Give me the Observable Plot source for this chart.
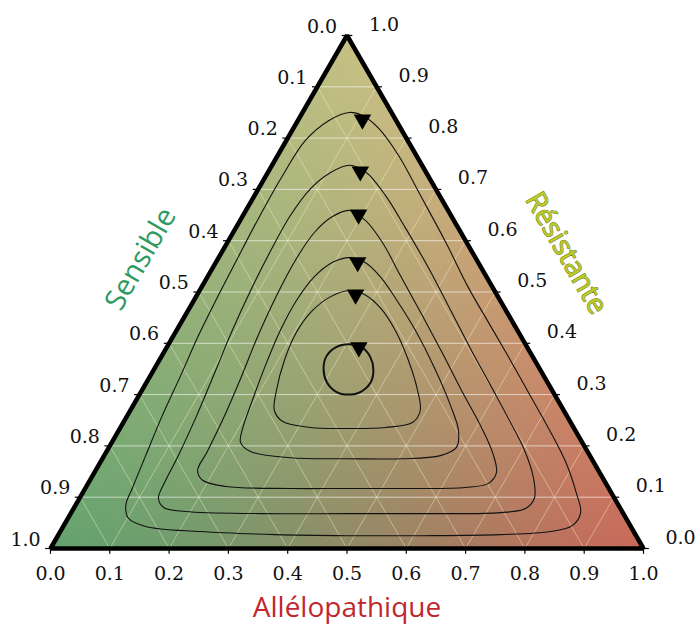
<!DOCTYPE html>
<html>
<head>
<meta charset="utf-8">
<script src="https://cdn.jsdelivr.net/npm/d3@7"></script>
<script src="https://cdn.jsdelivr.net/npm/@observablehq/plot@0.6"></script>
<style>
  body { margin: 0; background: #fff; }
  svg { display: block; }
</style>
</head>
<body>
<div id="chart"></div>
<script>
// ---- data (ternary coordinates: [Allélopathique, Résistante]; Sensible = 1 - a - r) ----
const tickValues = [0, 0.1, 0.2, 0.3, 0.4, 0.5, 0.6, 0.7, 0.8, 0.9, 1.0];
const tickLabels = ["0.0", "0.1", "0.2", "0.3", "0.4", "0.5", "0.6", "0.7", "0.8", "0.9", "1.0"];
const gridValues = [0.1, 0.2, 0.3, 0.4, 0.5, 0.6, 0.7, 0.8, 0.9];
const axisTitles = ["Sensible", "Résistante", "Allélopathique"];

const orbit1 = [[0.079,0.850],[0.052,0.834],[0.032,0.795],[0.028,0.727],[0.029,0.643],[0.033,0.558],[0.037,0.483],[0.042,0.415],[0.051,0.337],[0.059,0.259],[0.070,0.181],[0.079,0.119],[0.085,0.084],[0.102,0.059],[0.139,0.043],[0.236,0.033],[0.366,0.027],[0.488,0.025],[0.611,0.025],[0.745,0.027],[0.827,0.033],[0.858,0.045],[0.859,0.070],[0.832,0.109],[0.785,0.168],[0.723,0.234],[0.654,0.304],[0.592,0.367],[0.526,0.433],[0.450,0.509],[0.368,0.597],[0.280,0.688],[0.204,0.766],[0.144,0.819],[0.104,0.844]];
const orbit2 = [[0.131,0.747],[0.106,0.733],[0.088,0.702],[0.080,0.649],[0.081,0.581],[0.086,0.503],[0.094,0.425],[0.105,0.347],[0.117,0.259],[0.125,0.181],[0.128,0.129],[0.133,0.098],[0.151,0.080],[0.192,0.072],[0.320,0.068],[0.467,0.068],[0.607,0.068],[0.724,0.070],[0.762,0.078],[0.767,0.098],[0.746,0.137],[0.704,0.191],[0.646,0.253],[0.583,0.318],[0.513,0.390],[0.443,0.464],[0.365,0.546],[0.287,0.624],[0.221,0.688],[0.166,0.733]];
const orbit3 = [[0.175,0.659],[0.152,0.647],[0.137,0.616],[0.132,0.561],[0.135,0.489],[0.143,0.411],[0.155,0.331],[0.165,0.250],[0.170,0.187],[0.172,0.152],[0.190,0.133],[0.235,0.121],[0.346,0.117],[0.442,0.117],[0.549,0.117],[0.640,0.119],[0.675,0.127],[0.678,0.148],[0.652,0.187],[0.605,0.240],[0.543,0.304],[0.475,0.376],[0.400,0.454],[0.324,0.532],[0.263,0.595],[0.212,0.639]];
const orbit4 = [[0.221,0.567],[0.197,0.558],[0.180,0.530],[0.173,0.483],[0.175,0.425],[0.184,0.357],[0.196,0.289],[0.207,0.234],[0.217,0.207],[0.243,0.189],[0.316,0.177],[0.413,0.175],[0.503,0.175],[0.567,0.181],[0.586,0.197],[0.573,0.230],[0.535,0.279],[0.476,0.347],[0.403,0.425],[0.343,0.483],[0.291,0.530],[0.251,0.558]];
const orbit5 = [[0.253,0.503],[0.227,0.491],[0.210,0.464],[0.204,0.421],[0.211,0.367],[0.227,0.308],[0.243,0.269],[0.267,0.248],[0.320,0.236],[0.384,0.234],[0.447,0.236],[0.488,0.246],[0.489,0.269],[0.465,0.308],[0.420,0.367],[0.369,0.425],[0.323,0.468],[0.282,0.495]];
const orbit6 = [[0.304,0.398],[0.329,0.392],[0.352,0.374],[0.370,0.349],[0.378,0.324],[0.371,0.306],[0.352,0.300],[0.328,0.306],[0.304,0.324],[0.286,0.349],[0.278,0.374],[0.285,0.392]];
const arrowPoints = [[0.108,0.836],[0.155,0.735],[0.194,0.651],[0.239,0.558],[0.267,0.495],[0.324,0.392]];

// ---- ternary projection ----
const H = Math.sqrt(3) / 2;
const X = ([a, r]) => a + r / 2;
const Y = ([a, r]) => r * H;

const orbits = [orbit1, orbit2, orbit3, orbit4, orbit5, orbit6]
  .flatMap((o, k) => o.map(p => ({orbit: k + 1, x: X(p), y: Y(p)})));

const triangle = [[0, 0], [1, 0], [0, 1]].map(p => ({x: X(p), y: Y(p)}));

// background colour (blend of the three corner colours)
const cS = [100, 162, 110], cA = [202, 104, 90], cR = [198, 192, 132];
const bg = (x, y) => {
  let r = y / H, a = x - r / 2, s = 1 - a - r;
  const w = [Math.max(0, s), Math.pow(Math.max(0, a), 1.4), Math.pow(Math.max(0, r), 0.9)];
  const t = w[0] + w[1] + w[2] || 1;
  const c = [0, 1, 2].map(i => Math.round((w[0] * cS[i] + w[1] * cA[i] + w[2] * cR[i]) / t));
  return `rgb(${c[0]},${c[1]},${c[2]})`;
};
const coverL = [[0, 0], [0.5, H], [0.5, H + 0.1], [-0.1, H + 0.1], [-0.1, 0]].map(([x, y]) => ({x, y}));
const coverR = [[1, 0], [0.5, H], [0.5, H + 0.1], [1.1, H + 0.1], [1.1, 0]].map(([x, y]) => ({x, y}));

// grid lines
const gridH = gridValues.map(r => ({x1: X([0, r]), y1: Y([0, r]), x2: X([1 - r, r]), y2: Y([1 - r, r])}));
const gridA = gridValues.map(a => ({x1: X([a, 0]), y1: 0, x2: X([a, 1 - a]), y2: Y([a, 1 - a])}));
const gridS = gridValues.map(s => ({x1: X([1 - s, 0]), y1: 0, x2: X([0, 1 - s]), y2: Y([0, 1 - s])}));

// axes tick positions
const L = 0.009;
const leftTicks = tickValues.map((s, i) => ({x: X([0, 1 - s]), y: Y([0, 1 - s]), label: tickLabels[i]}));
const rightTicks = tickValues.map((r, i) => ({x: X([1 - r, r]), y: Y([1 - r, r]), label: tickLabels[i]}));
const bottomTicks = tickValues.map((a, i) => ({x: X([a, 0]), y: 0, label: tickLabels[i]}));

const tickFont = {fontFamily: "DejaVu Serif", fontSize: 19, fill: "#111"};
const titleFont = {fontFamily: "Open Sans", fontSize: 28};

const chart = Plot.plot({
  width: 700,
  height: 626,
  marginLeft: 50,
  marginRight: 57,
  marginTop: 35,
  marginBottom: 78,
  x: {domain: [0, 1], axis: null},
  y: {domain: [0, H], axis: null},
  color: {type: "identity"},
  style: {background: "white", overflow: "visible"},
  marks: [
    Plot.raster({x1: 0, y1: 0, x2: 1, y2: H, pixelSize: 1, fill: bg}),
    Plot.line(coverL, {x: "x", y: "y", fill: "white", stroke: "white", strokeWidth: 1, curve: "linear-closed"}),
    Plot.line(coverR, {x: "x", y: "y", fill: "white", stroke: "white", strokeWidth: 1, curve: "linear-closed"}),
    Plot.link(gridA, {x1: "x1", y1: "y1", x2: "x2", y2: "y2", stroke: "#fff8d8", strokeOpacity: 0.45, strokeWidth: 0.9}),
    Plot.link(gridS, {x1: "x1", y1: "y1", x2: "x2", y2: "y2", stroke: "#fff8d8", strokeOpacity: 0.45, strokeWidth: 0.9}),
    Plot.link(gridH, {x1: "x1", y1: "y1", x2: "x2", y2: "y2", stroke: "#ffffff", strokeOpacity: 0.6, strokeWidth: 1}),
    Plot.line(orbits, {x: "x", y: "y", z: "orbit", curve: "catmull-rom-closed", stroke: "#111", strokeWidth: d => d.orbit === 6 ? 2 : 1.1}),
    Plot.dot(arrowPoints, {x: X, y: Y, symbol: "triangle", r: 6.5, fill: "#000", stroke: "none", rotate: 180}),
    Plot.line(triangle, {x: "x", y: "y", curve: "linear-closed", stroke: "#000", strokeWidth: 4.5, strokeLinejoin: "miter"}),
    // ticks
    Plot.link(leftTicks, {x1: "x", y1: "y", x2: d => d.x - L, y2: "y", stroke: "#000", strokeWidth: 1.2}),
    Plot.link(rightTicks, {x1: "x", y1: "y", x2: d => d.x + L, y2: "y", stroke: "#000", strokeWidth: 1.2}),
    Plot.link(bottomTicks, {x1: "x", y1: "y", x2: "x", y2: -L, stroke: "#000", strokeWidth: 1.2}),
    // tick labels
    Plot.text(leftTicks, {x: "x", y: "y", text: "label", dx: -25, dy: -9, ...tickFont}),
    Plot.text(rightTicks, {x: "x", y: "y", text: "label", dx: 37, dy: -11, ...tickFont}),
    Plot.text(bottomTicks, {x: "x", y: "y", text: "label", dy: 25, ...tickFont}),
    // axis titles
    Plot.text([axisTitles[0]], {x: X([0, 0.5]), y: Y([0, 0.5]), text: d => d, rotate: -60, dx: -58, dy: -33, fill: "#2e9960", ...titleFont, fontSize: 29}),
    Plot.text([axisTitles[1]], {x: X([0.5, 0.5]), y: Y([0.5, 0.5]), text: d => d, rotate: 60, dx: 71, dy: -39, fill: "#bccb2a", stroke: "#6f7d12", strokeWidth: 1.1, ...titleFont}),
    Plot.text([axisTitles[2]], {x: X([0.5, 0]), y: 0, text: d => d, dy: 60, fill: "#c1272d", ...titleFont})
  ]
});
document.getElementById("chart").appendChild(chart);
</script>
</body>
</html>
